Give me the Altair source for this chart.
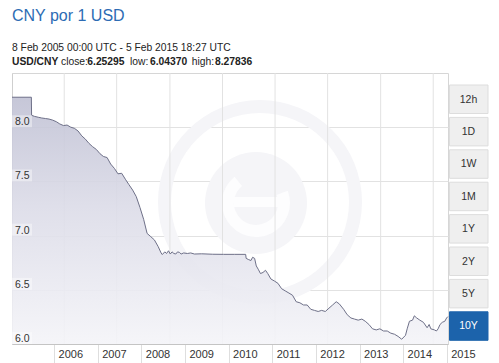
import altair as alt
import pandas as pd

# ---- series (USD/CNY) ----
dates = [
    "2005-02-08", "2005-07-20", "2005-07-22", "2005-08-15", "2005-09-15", "2005-10-15",
    "2005-11-15", "2005-12-15", "2006-01-15", "2006-02-15", "2006-03-15", "2006-04-15",
    "2006-05-15", "2006-06-15", "2006-07-15", "2006-08-15", "2006-09-15", "2006-10-15",
    "2006-11-15", "2006-12-15", "2007-01-15", "2007-02-15", "2007-03-15", "2007-04-15",
    "2007-05-15", "2007-06-15", "2007-07-15", "2007-08-15", "2007-09-15", "2007-10-15",
    "2007-11-15", "2007-12-15", "2008-01-15", "2008-02-15", "2008-03-15", "2008-04-15",
    "2008-05-15", "2008-06-15", "2008-07-10", "2008-07-20", "2008-08-10", "2008-08-25",
    "2008-09-10", "2008-09-25", "2008-10-10", "2008-10-25", "2008-11-10", "2008-11-25",
    "2008-12-10", "2008-12-25", "2009-01-15", "2009-02-15", "2009-03-15", "2009-04-15",
    "2009-06-15", "2009-09-15", "2009-12-15", "2010-03-15", "2010-06-18", "2010-06-22",
    "2010-07-10", "2010-08-01", "2010-08-15", "2010-09-01", "2010-09-15", "2010-10-01",
    "2010-10-20", "2010-11-10", "2010-12-01", "2010-12-20", "2011-01-15", "2011-02-15",
    "2011-03-15", "2011-04-15", "2011-05-15", "2011-06-15", "2011-07-15", "2011-08-15",
    "2011-09-15", "2011-10-15", "2011-11-15", "2011-12-15", "2012-01-15", "2012-02-15",
    "2012-03-15", "2012-04-15", "2012-05-15", "2012-06-15", "2012-07-15", "2012-08-10",
    "2012-09-15", "2012-10-15", "2012-11-15", "2012-12-15", "2013-01-15", "2013-02-15",
    "2013-03-15", "2013-04-15", "2013-05-15", "2013-06-15", "2013-07-15", "2013-08-15",
    "2013-09-15", "2013-10-15", "2013-11-15", "2013-12-15", "2014-01-14", "2014-02-15",
    "2014-03-01", "2014-03-20", "2014-04-15", "2014-04-30", "2014-05-20", "2014-06-15",
    "2014-07-15", "2014-08-15", "2014-09-01", "2014-09-15", "2014-10-15", "2014-11-01",
    "2014-11-15", "2014-12-01", "2014-12-20", "2015-01-10", "2015-01-25", "2015-02-05",
]
rates = [
    8.2765, 8.2765, 8.1100, 8.1000, 8.0920, 8.0850,
    8.0800, 8.0750, 8.0650, 8.0500, 8.0300, 8.0150,
    8.0200, 8.0000, 7.9900, 7.9650, 7.9200, 7.8900,
    7.8500, 7.8200, 7.7950, 7.7550, 7.7300, 7.7200,
    7.6600, 7.6200, 7.5700, 7.5750, 7.5200, 7.4700,
    7.4200, 7.3600, 7.2600, 7.1500, 7.0200, 6.9900,
    6.9600, 6.9000, 6.8400, 6.8250, 6.8500, 6.8350,
    6.8600, 6.8300, 6.8500, 6.8350, 6.8300, 6.8500,
    6.8450, 6.8300, 6.8400, 6.8350, 6.8400, 6.8300,
    6.8320, 6.8280, 6.8270, 6.8270, 6.8270, 6.7900,
    6.7800, 6.7700, 6.8000, 6.7900, 6.7200, 6.6900,
    6.6500, 6.6600, 6.6800, 6.6500, 6.6000, 6.5800,
    6.5600, 6.5100, 6.4900, 6.4700, 6.4500, 6.3900,
    6.3800, 6.3600, 6.3600, 6.3200, 6.3100, 6.3000,
    6.3100, 6.3000, 6.3300, 6.3600, 6.3900, 6.3700,
    6.3200, 6.2700, 6.2400, 6.2300, 6.2200, 6.2300,
    6.2100, 6.1800, 6.1400, 6.1300, 6.1400, 6.1200,
    6.1200, 6.1000, 6.0900, 6.0700, 6.0440, 6.0800,
    6.1400, 6.2100, 6.2200, 6.2600, 6.2400, 6.2200,
    6.2000, 6.1500, 6.1800, 6.1400, 6.1300, 6.1200,
    6.1400, 6.1800, 6.2000, 6.2100, 6.2400, 6.2530,
]

y_ticks = [6.0, 6.5, 7.0, 7.5, 8.0]
year_ticks = [2006, 2007, 2008, 2009, 2010, 2011, 2012, 2013, 2014, 2015]
vgrid_dates = ["2006-04-21", "2007-07-04", "2008-09-22", "2009-12-06",
               "2011-02-19", "2012-05-04", "2013-07-22", "2014-10-05"]
buttons = ["12h", "1D", "1W", "1M", "1Y", "2Y", "5Y", "10Y"]

title_text = "CNY por 1 USD"
range_text = "8 Feb 2005 00:00 UTC - 5 Feb 2015 18:27 UTC"
stats = [("USD/CNY", "bold", 0), ("close:", "normal", 49), ("6.25295", "bold", 75.3),
         ("low:", "normal", 118), ("6.04370", "bold", 138), ("high:", "normal", 179.7),
         ("8.27836", "bold", 203)]

FONT = "Liberation Sans"
W, H = 436, 271

df = pd.DataFrame({"date": dates, "rate": rates})
one = pd.DataFrame({"a": [0]})
ylab = pd.DataFrame({"v": y_ticks, "v2": [v + 0.11 for v in y_ticks],
                     "lab": [f"{v:.1f}" for v in y_ticks]})

x_scale = alt.Scale(type="utc",
                    domain=[alt.DateTime(year=2005, month=2, date=8, utc=True),
                            alt.DateTime(year=2015, month=2, date=5, hours=18, minutes=27, utc=True)])
y_scale = alt.Scale(domain=[6.0, 8.5], nice=False, zero=False)

x_axis = alt.Axis(
    values=[alt.DateTime(year=y, month=1, date=1, utc=True) for y in year_ticks],
    labelExpr="utcFormat(datum.value, '%Y')", title=None, grid=False,
    tickSize=19, tickColor="#dedede", tickOffset=3,
    domainColor="#c4c4c4", labelAlign="left", labelBaseline="middle",
    labelPadding=-9, labelOffset=4, labelFont=FONT, labelFontSize=11,
    labelColor="#333333", labelOverlap=False, labelFlush=False, labelBound=False,
)
y_axis = alt.Axis(
    values=y_ticks, title=None, ticks=False, labels=False, domain=True,
    domainColor="#cfcfcf", grid=True, gridColor="#e2e2e2",
)

# watermark (faint logo)
ring = alt.Chart(one).mark_arc(color="#f5f5f8").encode(
    x=alt.value(248), y=alt.value(129), theta=alt.value(0), theta2=alt.value(6.2832),
    radius=alt.value(102), radius2=alt.value(89))
disc = alt.Chart(one).mark_arc(color="#f5f5f8").encode(
    x=alt.value(244), y=alt.value(130), theta=alt.value(0), theta2=alt.value(6.2832),
    radius=alt.value(51))
e_ring = alt.Chart(one).mark_arc(color="#fdfdfe").encode(
    x=alt.value(244), y=alt.value(130), theta=alt.value(1.2), theta2=alt.value(5.6),
    radius=alt.value(34), radius2=alt.value(22))
e_bar = alt.Chart(one).mark_rect(color="#fdfdfe").encode(
    x=alt.value(222), x2=alt.value(268), y=alt.value(124), y2=alt.value(134))

vgrid = alt.Chart(pd.DataFrame({"date": vgrid_dates})).mark_rule(
    color="#e2e2e2", strokeWidth=1).encode(x=alt.X("date:T", scale=x_scale, axis=x_axis))

area = alt.Chart(df).mark_area(
    interpolate="linear", fillOpacity=0.9,
    color=alt.Gradient(gradient="linear",
                       stops=[alt.GradientStop(color="#c0c1d4", offset=0),
                              alt.GradientStop(color="#dcdce8", offset=0.45),
                              alt.GradientStop(color="#f4f4f8", offset=1)],
                       x1=1, x2=1, y1=0, y2=1),
).encode(x=alt.X("date:T", scale=x_scale, axis=x_axis),
         y=alt.Y("rate:Q", scale=y_scale, axis=y_axis),
         y2=alt.datum(6.0))

line = alt.Chart(df).mark_line(color="#6e7088", strokeWidth=1).encode(
    x=alt.X("date:T", scale=x_scale, axis=x_axis),
    y=alt.Y("rate:Q", scale=y_scale, axis=y_axis))

# y labels drawn inside the plot, with a light box behind each
lab_box = alt.Chart(ylab).mark_rect(fill="white", fillOpacity=0.4).encode(
    x=alt.value(0), x2=alt.value(20),
    y=alt.Y("v:Q", scale=y_scale, axis=y_axis), y2="v2:Q")
lab_txt = alt.Chart(ylab).mark_text(
    font=FONT, fontSize=10.5, color="#333333", align="left", baseline="alphabetic",
    dx=0, dy=-2).encode(
    x=alt.value(3), y=alt.Y("v:Q", scale=y_scale, axis=y_axis), text="lab:N")

# header texts
title = alt.Chart(one).mark_text(
    text=title_text, font=FONT, fontSize=16, color="#2d6cb4", align="left",
    baseline="alphabetic").encode(x=alt.value(0), y=alt.value(-52.5))
sub = alt.Chart(one).mark_text(
    text=range_text, font=FONT, fontSize=10.3, color="#222222", align="left",
    baseline="alphabetic").encode(x=alt.value(0), y=alt.value(-22))
stat_layers = [
    alt.Chart(one).mark_text(text=t, font=FONT, fontSize=10.3, fontWeight=w,
                             color="#222222", align="left", baseline="alphabetic")
    .encode(x=alt.value(xx), y=alt.value(-8))
    for t, w, xx in stats
]

# range buttons
btn_layers = []
for i, b in enumerate(buttons):
    top = 12 + i * 32.4
    active = b == "10Y"
    btn_layers.append(
        alt.Chart(one).mark_rect(
            fill="#1c63ab" if active else "#efefef",
            stroke="#1c63ab" if active else "#dddddd", strokeWidth=1)
        .encode(x=alt.value(437.5), x2=alt.value(476), y=alt.value(top), y2=alt.value(top + 28.5)))
    btn_layers.append(
        alt.Chart(one).mark_text(text=b, font=FONT, fontSize=10.5,
                                 color="#ffffff" if active else "#333333",
                                 align="center", baseline="middle")
        .encode(x=alt.value(456.5), y=alt.value(top + 14.5)))

chart = alt.layer(
    ring, disc, e_ring, e_bar, vgrid, area, line, lab_box, lab_txt,
    title, sub, *stat_layers, *btn_layers
).properties(
    width=W, height=H,
    autosize=alt.AutoSizeParams(type="none"),
    padding={"left": 4, "top": 65, "right": 43, "bottom": 20},
    background="white",
).configure_view(stroke="#d6d6d6", strokeWidth=1)

chart.save("out.html", embed_options={"renderer": "svg", "actions": False})
